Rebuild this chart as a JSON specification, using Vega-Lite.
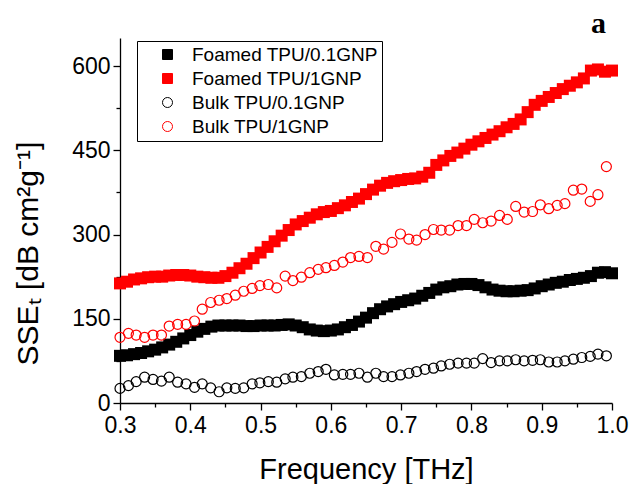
{
  "$schema": "https://vega.github.io/schema/vega-lite/v6.json",
  "width": 492,
  "height": 365,
  "autosize": {"type": "none"},
  "padding": {"left": 120, "top": 38, "right": 20, "bottom": 81},
  "background": "white",
  "title": {"text": "a", "anchor": "end", "frame": "group", "font": "Liberation Serif", "fontWeight": "bold", "fontSize": 30, "offset": -1, "dx": -6, "color": "black"},
  "config": {
    "view": {"stroke": null},
    "font": "Liberation Sans",
    "axis": {"domainColor": "black", "domainWidth": 1.3, "tickColor": "black", "tickWidth": 1.3, "labelColor": "black", "titleColor": "black", "labelFont": "Liberation Sans", "titleFont": "Liberation Sans", "labelFontSize": 23, "titleFontSize": 29, "titleFontWeight": "normal", "grid": false, "labelOverlap": false, "labelFlush": false},
    "legend": {"orient": "none", "legendX": 17, "legendY": 3, "strokeColor": "black", "strokeWidth": 1, "fillColor": "white", "padding": 4, "cornerRadius": 0, "symbolOffset": 0, "labelOffset": 15, "labelFontSize": 19, "labelFont": "Liberation Sans", "labelColor": "black", "labelLimit": 400, "symbolSize": 100, "symbolStrokeWidth": 1, "rowPadding": 4, "titleOrient": "left", "titleFontSize": 10, "titlePadding": 17}
  },
  "datasets": {
    "fs": [
      {"f":0.30,"v":84},{"f":0.31,"v":85},{"f":0.32,"v":87},{"f":0.33,"v":89},{"f":0.34,"v":92},{"f":0.35,"v":95},{"f":0.36,"v":99},{"f":0.37,"v":104},{"f":0.38,"v":109},{"f":0.39,"v":115},
      {"f":0.40,"v":121},{"f":0.41,"v":127},{"f":0.42,"v":132},{"f":0.43,"v":136},{"f":0.44,"v":138},{"f":0.45,"v":138},{"f":0.46,"v":138},{"f":0.47,"v":138},{"f":0.48,"v":137},{"f":0.49,"v":137},
      {"f":0.50,"v":138},{"f":0.51,"v":138},{"f":0.52,"v":138},{"f":0.53,"v":139},{"f":0.54,"v":140},{"f":0.55,"v":138},{"f":0.56,"v":135},{"f":0.57,"v":131},{"f":0.58,"v":129},{"f":0.59,"v":128},
      {"f":0.60,"v":129},{"f":0.61,"v":131},{"f":0.62,"v":135},{"f":0.63,"v":139},{"f":0.64,"v":145},{"f":0.65,"v":152},{"f":0.66,"v":160},{"f":0.67,"v":167},{"f":0.68,"v":172},{"f":0.69,"v":176},
      {"f":0.70,"v":180},{"f":0.71,"v":183},{"f":0.72,"v":186},{"f":0.73,"v":191},{"f":0.74,"v":196},{"f":0.75,"v":202},{"f":0.76,"v":206},{"f":0.77,"v":208},{"f":0.78,"v":211},{"f":0.79,"v":212},
      {"f":0.80,"v":212},{"f":0.81,"v":210},{"f":0.82,"v":206},{"f":0.83,"v":202},{"f":0.84,"v":200},{"f":0.85,"v":199},{"f":0.86,"v":199},{"f":0.87,"v":200},{"f":0.88,"v":201},{"f":0.89,"v":204},
      {"f":0.90,"v":208},{"f":0.91,"v":211},{"f":0.92,"v":214},{"f":0.93,"v":216},{"f":0.94,"v":219},{"f":0.95,"v":221},{"f":0.96,"v":223},{"f":0.97,"v":226},{"f":0.98,"v":232},{"f":0.99,"v":233},{"f":1.00,"v":231}
    ],
    "fr": [
      {"f":0.30,"v":213},{"f":0.31,"v":216},{"f":0.32,"v":220},{"f":0.33,"v":222},{"f":0.34,"v":224},{"f":0.35,"v":225},{"f":0.36,"v":225},{"f":0.37,"v":227},{"f":0.38,"v":228},{"f":0.39,"v":228},
      {"f":0.40,"v":227},{"f":0.41,"v":225},{"f":0.42,"v":224},{"f":0.43,"v":223},{"f":0.44,"v":223},{"f":0.45,"v":226},{"f":0.46,"v":232},{"f":0.47,"v":240},{"f":0.48,"v":248},{"f":0.49,"v":258},
      {"f":0.50,"v":268},{"f":0.51,"v":278},{"f":0.52,"v":288},{"f":0.53,"v":298},{"f":0.54,"v":308},{"f":0.55,"v":318},{"f":0.56,"v":324},{"f":0.57,"v":330},{"f":0.58,"v":336},{"f":0.59,"v":340},
      {"f":0.60,"v":342},{"f":0.61,"v":347},{"f":0.62,"v":352},{"f":0.63,"v":358},{"f":0.64,"v":364},{"f":0.65,"v":372},{"f":0.66,"v":380},{"f":0.67,"v":387},{"f":0.68,"v":392},{"f":0.69,"v":395},
      {"f":0.70,"v":397},{"f":0.71,"v":399},{"f":0.72,"v":400},{"f":0.73,"v":403},{"f":0.74,"v":410},{"f":0.75,"v":424},{"f":0.76,"v":432},{"f":0.77,"v":440},{"f":0.78,"v":446},{"f":0.79,"v":453},
      {"f":0.80,"v":460},{"f":0.81,"v":466},{"f":0.82,"v":472},{"f":0.83,"v":478},{"f":0.84,"v":484},{"f":0.85,"v":491},{"f":0.86,"v":497},{"f":0.87,"v":505},{"f":0.88,"v":518},{"f":0.89,"v":531},
      {"f":0.90,"v":538},{"f":0.91,"v":545},{"f":0.92,"v":552},{"f":0.93,"v":559},{"f":0.94,"v":565},{"f":0.95,"v":571},{"f":0.96,"v":578},{"f":0.97,"v":592},{"f":0.98,"v":594},{"f":0.99,"v":590},{"f":1.00,"v":592}
    ],
    "bs": [
      {"f":0.300,"v":26},{"f":0.312,"v":31},{"f":0.323,"v":38},{"f":0.335,"v":46},{"f":0.347,"v":42},{"f":0.359,"v":39},{"f":0.370,"v":46},{"f":0.382,"v":37},{"f":0.394,"v":34},{"f":0.406,"v":28},
      {"f":0.417,"v":34},{"f":0.429,"v":27},{"f":0.441,"v":20},{"f":0.452,"v":27},{"f":0.464,"v":26},{"f":0.476,"v":27},{"f":0.488,"v":34},{"f":0.499,"v":36},{"f":0.511,"v":38},{"f":0.523,"v":37},
      {"f":0.535,"v":43},{"f":0.546,"v":46},{"f":0.558,"v":47},{"f":0.570,"v":53},{"f":0.582,"v":56},{"f":0.593,"v":60},{"f":0.605,"v":50},{"f":0.617,"v":51},{"f":0.628,"v":51},{"f":0.640,"v":53},
      {"f":0.652,"v":46},{"f":0.664,"v":53},{"f":0.675,"v":47},{"f":0.687,"v":47},{"f":0.699,"v":50},{"f":0.711,"v":53},{"f":0.722,"v":56},{"f":0.734,"v":60},{"f":0.746,"v":62},{"f":0.757,"v":66},
      {"f":0.769,"v":69},{"f":0.781,"v":71},{"f":0.793,"v":71},{"f":0.804,"v":71},{"f":0.816,"v":79},{"f":0.828,"v":72},{"f":0.840,"v":75},{"f":0.851,"v":75},{"f":0.863,"v":77},{"f":0.875,"v":75},
      {"f":0.887,"v":76},{"f":0.898,"v":77},{"f":0.910,"v":73},{"f":0.922,"v":73},{"f":0.933,"v":75},{"f":0.945,"v":78},{"f":0.957,"v":81},{"f":0.969,"v":83},{"f":0.980,"v":87},{"f":0.992,"v":84}
    ],
    "br": [
      {"f":0.300,"v":117},{"f":0.312,"v":124},{"f":0.323,"v":121},{"f":0.335,"v":117},{"f":0.347,"v":121},{"f":0.359,"v":121},{"f":0.370,"v":137},{"f":0.382,"v":140},{"f":0.394,"v":140},{"f":0.406,"v":146},
      {"f":0.417,"v":167},{"f":0.429,"v":179},{"f":0.441,"v":183},{"f":0.452,"v":186},{"f":0.464,"v":192},{"f":0.476,"v":199},{"f":0.488,"v":204},{"f":0.499,"v":209},{"f":0.511,"v":211},{"f":0.523,"v":205},
      {"f":0.535,"v":226},{"f":0.546,"v":218},{"f":0.558,"v":224},{"f":0.570,"v":232},{"f":0.582,"v":238},{"f":0.593,"v":241},{"f":0.605,"v":245},{"f":0.617,"v":251},{"f":0.628,"v":259},{"f":0.640,"v":261},
      {"f":0.652,"v":259},{"f":0.664,"v":279},{"f":0.675,"v":274},{"f":0.687,"v":286},{"f":0.699,"v":301},{"f":0.711,"v":292},{"f":0.722,"v":290},{"f":0.734,"v":300},{"f":0.746,"v":309},{"f":0.757,"v":308},
      {"f":0.769,"v":308},{"f":0.781,"v":316},{"f":0.793,"v":316},{"f":0.804,"v":327},{"f":0.816,"v":321},{"f":0.828,"v":324},{"f":0.840,"v":334},{"f":0.851,"v":327},{"f":0.863,"v":350},{"f":0.875,"v":340},
      {"f":0.887,"v":341},{"f":0.898,"v":353},{"f":0.910,"v":346},{"f":0.922,"v":352},{"f":0.933,"v":355},{"f":0.945,"v":379},{"f":0.957,"v":381},{"f":0.969,"v":359},{"f":0.980,"v":371},{"f":0.992,"v":421}
    ]
  },
  "encoding": {
    "x": {"field": "f", "type": "quantitative", "scale": {"domain": [0.3, 1.0], "nice": false, "zero": false},
      "axis": {"title": "Frequency [THz]", "values": [0.3,0.35,0.4,0.45,0.5,0.55,0.6,0.65,0.7,0.75,0.8,0.85,0.9,0.95,1.0],
        "labelExpr": "abs(datum.value*10 - round(datum.value*10)) > 0.01 ? '' : format(datum.value, '.1f')",
        "tickSize": {"condition": {"test": "abs(datum.value*10 - round(datum.value*10)) > 0.01", "value": 4}, "value": 7},
        "labelPadding": 4, "titleX": 246, "titleY": 75, "titleBaseline": "alphabetic"}},
    "y": {"field": "v", "type": "quantitative", "scale": {"domain": [0, 650], "nice": false},
      "axis": {"title": "SSEₜ [dB cm²g⁻¹]", "titleFontSize": 30, "values": [0,75,150,225,300,375,450,525,600],
        "labelExpr": "datum.value % 150 == 0 ? datum.label : ''",
        "tickSize": {"condition": {"test": "datum.value % 150 != 0", "value": 4}, "value": 7},
        "labelPadding": 3, "titleX": -77, "titleY": 327, "titleAlign": "left", "titleBaseline": "bottom"}}
  },
  "layer": [
    {
      "data": {"name": "fs"},
      "mark": {"type": "point", "filled": true, "clip": false, "size": 144, "strokeWidth": 0, "opacity": 1},
      "encoding": {
        "shape": {"datum": "Foamed TPU/0.1GNP", "scale": {"domain": ["Foamed TPU/0.1GNP", "Foamed TPU/1GNP", "Bulk TPU/0.1GNP", "Bulk TPU/1GNP"], "range": ["square", "square", "circle", "circle"]}, "legend": {"title": " "}},
        "fill": {"datum": "Foamed TPU/0.1GNP", "scale": {"domain": ["Foamed TPU/0.1GNP", "Foamed TPU/1GNP", "Bulk TPU/0.1GNP", "Bulk TPU/1GNP"], "range": ["#000000", "#ff0000", "transparent", "transparent"]}, "legend": {"title": " "}},
        "stroke": {"datum": "Foamed TPU/0.1GNP", "scale": {"domain": ["Foamed TPU/0.1GNP", "Foamed TPU/1GNP", "Bulk TPU/0.1GNP", "Bulk TPU/1GNP"], "range": ["#000000", "#ff0000", "#000000", "#ff0000"]}, "legend": {"title": " "}}
      }
    },
    {
      "data": {"name": "fr"},
      "mark": {"type": "point", "filled": true, "clip": false, "size": 144, "strokeWidth": 0, "opacity": 1},
      "encoding": {
        "shape": {"datum": "Foamed TPU/1GNP"},
        "fill": {"datum": "Foamed TPU/1GNP"},
        "stroke": {"datum": "Foamed TPU/1GNP"}
      }
    },
    {
      "data": {"name": "bs"},
      "mark": {"type": "point", "filled": true, "clip": false, "size": 100, "strokeWidth": 1.2, "opacity": 1},
      "encoding": {
        "shape": {"datum": "Bulk TPU/0.1GNP"},
        "fill": {"datum": "Bulk TPU/0.1GNP"},
        "stroke": {"datum": "Bulk TPU/0.1GNP"}
      }
    },
    {
      "data": {"name": "br"},
      "mark": {"type": "point", "filled": true, "clip": false, "size": 100, "strokeWidth": 1.2, "opacity": 1},
      "encoding": {
        "shape": {"datum": "Bulk TPU/1GNP"},
        "fill": {"datum": "Bulk TPU/1GNP"},
        "stroke": {"datum": "Bulk TPU/1GNP"}
      }
    }
  ]
}
